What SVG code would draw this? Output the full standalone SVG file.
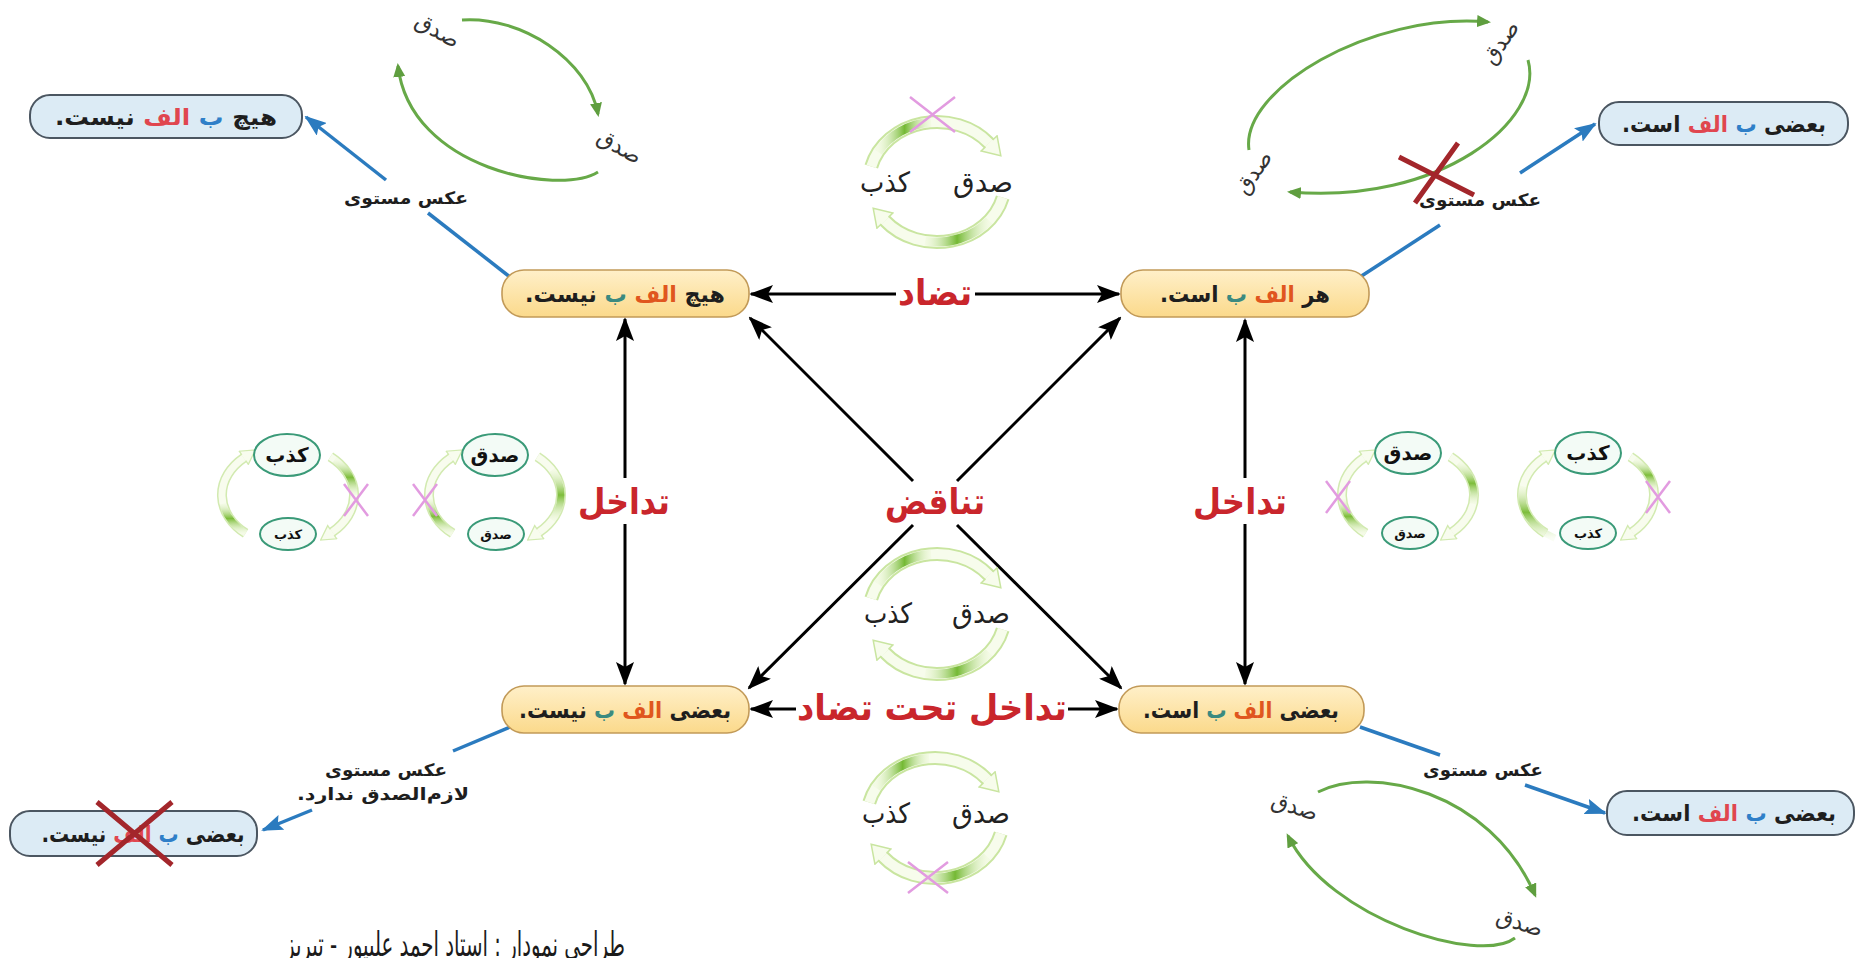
<svg xmlns="http://www.w3.org/2000/svg" width="1857" height="958" viewBox="0 0 1857 958">
<defs>
<style>
.ar{font-family:"DejaVu Sans",sans-serif;direction:rtl;text-anchor:middle;}
.nt{font-size:23px;font-weight:bold;fill:#1e1e1e;}
.rl{font-size:36px;font-weight:bold;fill:#c9262c;}
.lb{font-size:17px;font-weight:bold;fill:#1e1e1e;}
.cl{font-size:28px;fill:#222;}
.gl{font-size:22px;fill:#333;}
.el{font-size:20px;font-weight:bold;fill:#111;}
.es{font-size:13px;font-weight:bold;fill:#111;}
.ynode{fill:url(#yel);stroke:#c29a58;stroke-width:1.6;}
.bnode{fill:#dcebf5;stroke:#4b5661;stroke-width:2;}
.alef{fill:#e0561e;}
.be{fill:#3b8a80;}
.balef{fill:#e0464f;}
.bbe{fill:#2f7fc8;}
.blk{fill:none;stroke:#000;stroke-width:3;}
.blu{fill:none;stroke:#2b7bbf;stroke-width:3.5;}
.gc{fill:none;stroke:#67a948;stroke-width:3;marker-end:url(#mg);}
.po{fill:none;stroke:#c9e5a0;stroke-width:14;}
.pim{fill:none;stroke:#f7fcec;stroke-width:10;marker-end:url(#mp);}
.pd{fill:none;stroke:url(#gd);stroke-width:9;}
.so{fill:none;stroke:#d2eab0;stroke-width:10;}
.si{fill:none;stroke:#f8fcee;stroke-width:7;marker-end:url(#ms);}
.sd{fill:none;stroke:url(#gv);stroke-width:7;}
.px{stroke:#e29be0;stroke-width:2.5;fill:none;}
.rx{stroke:#a3262b;stroke-width:5;fill:none;}
.ell{fill:#f3fbf6;stroke:#3a9a78;stroke-width:2;}
.ft{font-size:34px;fill:#1a1a1a;}
</style>
<linearGradient id="yel" x1="0" y1="0" x2="0" y2="1"><stop offset="0" stop-color="#fff0c9"/><stop offset="1" stop-color="#fbd98b"/></linearGradient>
<linearGradient id="gd" x1="0" y1="0" x2="1" y2="0"><stop offset="0" stop-color="#e4f4c8" stop-opacity="0.2"/><stop offset="0.5" stop-color="#74b934"/><stop offset="1" stop-color="#e4f4c8" stop-opacity="0.2"/></linearGradient>
<linearGradient id="gv" x1="0" y1="0" x2="0" y2="1"><stop offset="0" stop-color="#e4f4c8" stop-opacity="0.2"/><stop offset="0.5" stop-color="#7dbd3a"/><stop offset="1" stop-color="#e4f4c8" stop-opacity="0.2"/></linearGradient>
<marker id="mk" viewBox="0 0 24 18" refX="22" refY="9" markerWidth="24" markerHeight="18" markerUnits="userSpaceOnUse" orient="auto"><path d="M0,0 L24,9 L0,18 L5,9 z" fill="#000"/></marker>
<marker id="mb" viewBox="0 0 22 16" refX="20" refY="8" markerWidth="22" markerHeight="16" markerUnits="userSpaceOnUse" orient="auto"><path d="M0,0 L22,8 L0,16 L4,8 z" fill="#2b7bbf"/></marker>
<marker id="mg" viewBox="0 0 14 12" refX="11" refY="6" markerWidth="14" markerHeight="12" markerUnits="userSpaceOnUse" orient="auto"><path d="M0,0 L14,6 L0,12 z" fill="#5f9e3f"/></marker>
<marker id="mp" viewBox="0 0 20 24" refX="1" refY="12" markerWidth="20" markerHeight="24" markerUnits="userSpaceOnUse" orient="auto"><path d="M1,7 L1,1 L18,12 L1,23 L1,17" fill="#f7fcec" stroke="#c9e5a0" stroke-width="1.5"/></marker>
<marker id="ms" viewBox="0 0 16 18" refX="1" refY="9" markerWidth="16" markerHeight="18" markerUnits="userSpaceOnUse" orient="auto"><path d="M1,5.5 L1,1 L15,9 L1,17 L1,12.5" fill="#f8fcee" stroke="#d2eab0" stroke-width="1.3"/></marker>
</defs>
<rect width="1857" height="958" fill="#fff"/>

<g id="connectors">
<line class="blk" x1="896" y1="294" x2="751" y2="294" marker-end="url(#mk)"/>
<line class="blk" x1="975" y1="294" x2="1119" y2="294" marker-end="url(#mk)"/>
<line class="blk" x1="796" y1="709" x2="751" y2="709" marker-end="url(#mk)"/>
<line class="blk" x1="1068" y1="709" x2="1117" y2="709" marker-end="url(#mk)"/>
<line class="blk" x1="625" y1="478" x2="625" y2="319" marker-end="url(#mk)"/>
<line class="blk" x1="625" y1="524" x2="625" y2="684" marker-end="url(#mk)"/>
<line class="blk" x1="1245" y1="478" x2="1245" y2="320" marker-end="url(#mk)"/>
<line class="blk" x1="1245" y1="524" x2="1245" y2="684" marker-end="url(#mk)"/>
<line class="blk" x1="913" y1="481" x2="750" y2="318" marker-end="url(#mk)"/>
<line class="blk" x1="957" y1="481" x2="1120" y2="318" marker-end="url(#mk)"/>
<line class="blk" x1="913" y1="525" x2="749" y2="688" marker-end="url(#mk)"/>
<line class="blk" x1="957" y1="525" x2="1121" y2="688" marker-end="url(#mk)"/>
<line class="blu" x1="510" y1="277" x2="428" y2="213"/>
<line class="blu" x1="386" y1="180" x2="306" y2="117" marker-end="url(#mb)"/>
<line class="blu" x1="1360" y1="277" x2="1440" y2="225"/>
<line class="blu" x1="1520" y1="173" x2="1595" y2="124" marker-end="url(#mb)"/>
<line class="blu" x1="510" y1="727" x2="453" y2="751"/>
<line class="blu" x1="312" y1="810" x2="263" y2="830" marker-end="url(#mb)"/>
<line class="blu" x1="1360" y1="727" x2="1440" y2="755"/>
<line class="blu" x1="1525" y1="785" x2="1605" y2="813" marker-end="url(#mb)"/>
</g>

<g id="relation-labels">
<text class="ar rl" x="935" y="305" textLength="74" lengthAdjust="spacingAndGlyphs">تضاد</text>
<text class="ar rl" x="935" y="514" textLength="100" lengthAdjust="spacingAndGlyphs">تناقض</text>
<text class="ar rl" x="624" y="514" textLength="92" lengthAdjust="spacingAndGlyphs">تداخل</text>
<text class="ar rl" x="1240" y="514" textLength="94" lengthAdjust="spacingAndGlyphs">تداخل</text>
<text class="ar rl" x="932" y="720" textLength="270" lengthAdjust="spacingAndGlyphs">تداخل تحت تضاد</text>
<text class="ar lb" x="406" y="204" textLength="124" lengthAdjust="spacingAndGlyphs">عکس مستوی</text>
<text class="ar lb" x="1480" y="206" textLength="122" lengthAdjust="spacingAndGlyphs">عکس مستوی</text>
<text class="ar lb" x="1483" y="776" textLength="120" lengthAdjust="spacingAndGlyphs">عکس مستوی</text>
<text class="ar lb" x="386" y="776" textLength="122" lengthAdjust="spacingAndGlyphs">عکس مستوی</text>
<text class="ar lb" x="383" y="800" textLength="172" lengthAdjust="spacingAndGlyphs">لازم‌الصدق ندارد.</text>
</g>

<g id="node-all-a-b">
<rect class="ynode" x="1121" y="270" width="248" height="47" rx="22"/>
<text class="ar nt" x="1245" y="302" textLength="170" lengthAdjust="spacingAndGlyphs">هر <tspan class="alef">الف</tspan> <tspan class="be">ب</tspan> است.</text>
</g>
<g id="node-no-a-b">
<rect class="ynode" x="502" y="270" width="247" height="47" rx="22"/>
<text class="ar nt" x="625" y="302" textLength="200" lengthAdjust="spacingAndGlyphs">هیچ <tspan class="alef">الف</tspan> <tspan class="be">ب</tspan> نیست.</text>
</g>
<g id="node-some-a-b">
<rect class="ynode" x="1119" y="686" width="245" height="47" rx="22"/>
<text class="ar nt" x="1241" y="718" textLength="196" lengthAdjust="spacingAndGlyphs">بعضی <tspan class="alef">الف</tspan> <tspan class="be">ب</tspan> است.</text>
</g>
<g id="node-some-a-not-b">
<rect class="ynode" x="502" y="686" width="247" height="47" rx="22"/>
<text class="ar nt" x="625" y="718" textLength="212" lengthAdjust="spacingAndGlyphs">بعضی <tspan class="alef">الف</tspan> <tspan class="be">ب</tspan> نیست.</text>
</g>

<g id="conv-no-b-a">
<rect class="bnode" x="30" y="95" width="272" height="43" rx="20"/>
<text class="ar nt" x="166" y="125" textLength="222" lengthAdjust="spacingAndGlyphs">هیچ <tspan class="bbe">ب</tspan> <tspan class="balef">الف</tspan> نیست.</text>
</g>
<g id="conv-some-b-a-top">
<rect class="bnode" x="1599" y="102" width="249" height="43" rx="20"/>
<text class="ar nt" x="1724" y="132" textLength="204" lengthAdjust="spacingAndGlyphs">بعضی <tspan class="bbe">ب</tspan> <tspan class="balef">الف</tspan> است.</text>
</g>
<g id="conv-some-b-a-bottom">
<rect class="bnode" x="1607" y="791" width="247" height="44" rx="20"/>
<text class="ar nt" x="1734" y="821" textLength="204" lengthAdjust="spacingAndGlyphs">بعضی <tspan class="bbe">ب</tspan> <tspan class="balef">الف</tspan> است.</text>
</g>
<g id="conv-some-b-not-a">
<rect class="bnode" x="10" y="811" width="247" height="45" rx="20"/>
<text class="ar nt" x="143" y="842" textLength="203" lengthAdjust="spacingAndGlyphs">بعضی <tspan class="bbe">ب</tspan> <tspan class="balef">الف</tspan> نیست.</text>
<path class="rx" d="M97,802 L172,865 M172,802 L97,865"/>
</g>

<g id="cycle-tl">
<path class="gc" d="M462,20 C522,16 588,60 598,114"/>
<path class="gc" d="M598,172 C560,196 410,170 398,66"/>
<text class="ar gl" transform="translate(438,30) rotate(30)" x="0" y="8">صدق</text>
<text class="ar gl" transform="translate(620,146) rotate(30)" x="0" y="8">صدق</text>
</g>
<g id="cycle-tr">
<path class="gc" d="M1249,150 C1240,90 1370,12 1488,22"/>
<path class="gc" d="M1528,60 C1545,120 1440,205 1290,192"/>
<text class="ar gl" transform="translate(1500,42) rotate(-55)" x="0" y="8">صدق</text>
<text class="ar gl" transform="translate(1253,172) rotate(-55)" x="0" y="8">صدق</text>
<path class="rx" d="M1399,157 L1474,195 M1458,143 L1415,203"/>
</g>
<g id="cycle-br">
<path class="gc" d="M1318,792 C1370,765 1490,790 1535,895"/>
<path class="gc" d="M1515,938 C1480,965 1330,920 1288,836"/>
<text class="ar gl" transform="translate(1295,806) rotate(18)" x="0" y="8">صدق</text>
<text class="ar gl" transform="translate(1520,922) rotate(18)" x="0" y="8">صدق</text>
</g>

<g id="cycle-top">
<path class="po" d="M871.3,166.5 A68,60 0 0 1 989.1,143.4"/>
<path class="pim" d="M871.3,166.5 A68,60 0 0 1 989.1,143.4"/>
<path class="pd" d="M878.1,152 A68,60 0 0 1 931.1,122.2"/>
<path class="po" d="M1002.7,197.5 A68,60 0 0 1 884.9,220.6"/>
<path class="pim" d="M1002.7,197.5 A68,60 0 0 1 884.9,220.6"/>
<path class="pd" d="M989.1,220.6 A68,60 0 0 1 925.2,241.1"/>
<path class="px" d="M910,97 L955,132 M955,97 L910,132"/>
<text class="ar cl" x="983" y="192" textLength="60" lengthAdjust="spacingAndGlyphs">صدق</text>
<text class="ar cl" x="885" y="192" textLength="50" lengthAdjust="spacingAndGlyphs">کذب</text>
</g>
<g id="cycle-middle">
<path class="po" d="M871.3,598.5 A68,60 0 0 1 989.1,575.4"/>
<path class="pim" d="M871.3,598.5 A68,60 0 0 1 989.1,575.4"/>
<path class="pd" d="M878.1,584 A68,60 0 0 1 931.1,554.2"/>
<path class="po" d="M1002.7,629.5 A68,60 0 0 1 884.9,652.6"/>
<path class="pim" d="M1002.7,629.5 A68,60 0 0 1 884.9,652.6"/>
<path class="pd" d="M989.1,652.6 A68,60 0 0 1 925.2,673.1"/>
<text class="ar cl" x="981" y="623" textLength="58" lengthAdjust="spacingAndGlyphs">صدق</text>
<text class="ar cl" x="888" y="623" textLength="48" lengthAdjust="spacingAndGlyphs">کذب</text>
</g>
<g id="cycle-bottom">
<path class="po" d="M869.3,802.5 A68,60 0 0 1 987.1,779.4"/>
<path class="pim" d="M869.3,802.5 A68,60 0 0 1 987.1,779.4"/>
<path class="pd" d="M876.1,788 A68,60 0 0 1 929.1,758.2"/>
<path class="po" d="M1000.7,833.5 A68,60 0 0 1 882.9,856.6"/>
<path class="pim" d="M1000.7,833.5 A68,60 0 0 1 882.9,856.6"/>
<path class="pd" d="M987.1,856.6 A68,60 0 0 1 923.2,877.1"/>
<path class="px" d="M908,862 L948,893 M948,862 L908,893"/>
<text class="ar cl" x="981" y="823" textLength="58" lengthAdjust="spacingAndGlyphs">صدق</text>
<text class="ar cl" x="886" y="823" textLength="48" lengthAdjust="spacingAndGlyphs">کذب</text>
</g>

<g id="cycle-left-false">
<path class="so" d="M330.4,456.7 A66,50 0 0 1 332.2,532.2"/>
<path class="si" d="M330.4,456.7 A66,50 0 0 1 332.2,532.2"/>
<path class="sd" d="M334.7,459.6 A66,50 0 0 1 354,495"/>
<path class="so" d="M245.6,533.3 A66,50 0 0 1 243.8,457.8"/>
<path class="si" d="M245.6,533.3 A66,50 0 0 1 243.8,457.8"/>
<path class="sd" d="M245.6,533.3 A66,50 0 0 1 223,503.7"/>
<path class="px" d="M344,484 L368,516 M368,484 L344,516"/>
<ellipse class="ell" cx="287" cy="455" rx="33" ry="21"/>
<text class="ar el" x="287" y="462">کذب</text>
<ellipse class="ell" cx="288" cy="534" rx="28" ry="16"/>
<text class="ar es" x="288" y="539">کذب</text>
</g>
<g id="cycle-left-true">
<path class="so" d="M537.4,456.7 A66,50 0 0 1 539.2,532.2"/>
<path class="si" d="M537.4,456.7 A66,50 0 0 1 539.2,532.2"/>
<path class="sd" d="M552.2,470 A66,50 0 0 1 552.2,520"/>
<path class="so" d="M452.6,533.3 A66,50 0 0 1 450.8,457.8"/>
<path class="si" d="M452.6,533.3 A66,50 0 0 1 450.8,457.8"/>
<path class="sd" d="M452.6,533.3 A66,50 0 0 1 429.3,499.4"/>
<path class="px" d="M413,484 L437,516 M437,484 L413,516"/>
<ellipse class="ell" cx="495" cy="455" rx="33" ry="21"/>
<text class="ar el" x="495" y="462">صدق</text>
<ellipse class="ell" cx="496" cy="534" rx="28" ry="16"/>
<text class="ar es" x="496" y="539">صدق</text>
</g>
<g id="cycle-right-true">
<path class="so" d="M1450.4,456.7 A66,50 0 0 1 1452.2,532.2"/>
<path class="si" d="M1450.4,456.7 A66,50 0 0 1 1452.2,532.2"/>
<path class="sd" d="M1458.6,462.9 A66,50 0 0 1 1473,503.7"/>
<path class="so" d="M1365.6,533.3 A66,50 0 0 1 1363.8,457.8"/>
<path class="si" d="M1365.6,533.3 A66,50 0 0 1 1363.8,457.8"/>
<path class="sd" d="M1365.6,533.3 A66,50 0 0 1 1342.3,499.4"/>
<path class="px" d="M1326,481 L1350,513 M1350,481 L1326,513"/>
<ellipse class="ell" cx="1408" cy="453" rx="33" ry="21"/>
<text class="ar el" x="1408" y="460">صدق</text>
<ellipse class="ell" cx="1410" cy="533" rx="28" ry="16"/>
<text class="ar es" x="1410" y="538">صدق</text>
</g>
<g id="cycle-right-false">
<path class="so" d="M1630.4,456.7 A66,50 0 0 1 1632.2,532.2"/>
<path class="si" d="M1630.4,456.7 A66,50 0 0 1 1632.2,532.2"/>
<path class="sd" d="M1634.7,459.6 A66,50 0 0 1 1653.7,490.6"/>
<path class="so" d="M1545.6,533.3 A66,50 0 0 1 1543.8,457.8"/>
<path class="si" d="M1545.6,533.3 A66,50 0 0 1 1543.8,457.8"/>
<path class="sd" d="M1555,538.3 A66,50 0 0 1 1523,486.3"/>
<path class="px" d="M1646,481 L1670,513 M1670,481 L1646,513"/>
<ellipse class="ell" cx="1588" cy="453" rx="33" ry="21"/>
<text class="ar el" x="1588" y="460">کذب</text>
<ellipse class="ell" cx="1588" cy="533" rx="28" ry="16"/>
<text class="ar es" x="1588" y="538">کذب</text>
</g>

<g id="footer">
<text class="ar ft" x="455" y="956" textLength="340" lengthAdjust="spacingAndGlyphs">طراحی نمودار : استاد احمد علیپور - تبریز</text>
</g>
</svg>
